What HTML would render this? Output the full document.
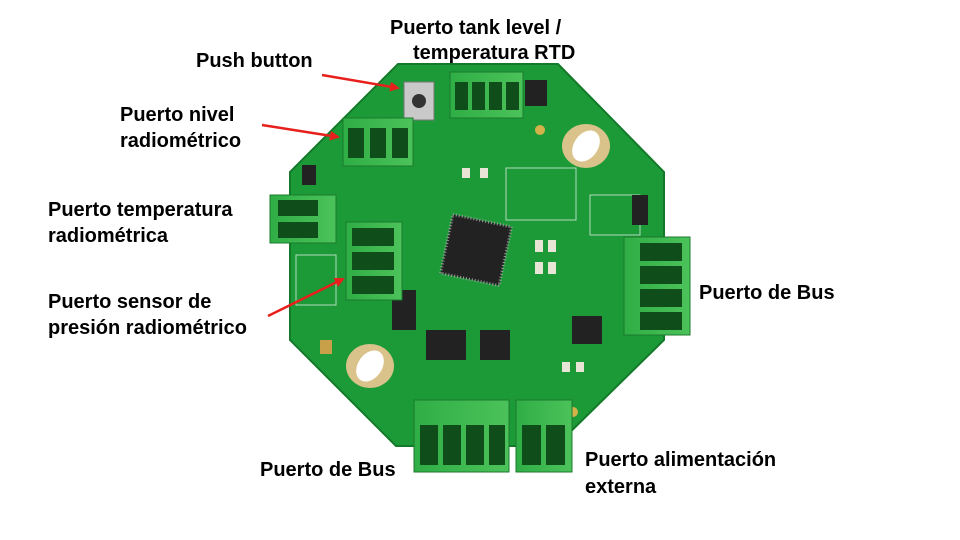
<!DOCTYPE html>
<html><head><meta charset="utf-8"><style>
html,body{margin:0;padding:0;background:#fff;width:960px;height:540px;overflow:hidden}
svg{display:block}
text.l{font-family:"Liberation Sans",sans-serif;font-weight:bold;font-size:20px;fill:#000}
</style></head><body>
<svg width="960" height="540" viewBox="0 0 960 540" xmlns="http://www.w3.org/2000/svg">
<defs>
<marker id="ah" markerWidth="10" markerHeight="10" refX="8" refY="5" orient="auto" markerUnits="userSpaceOnUse">
<path d="M0,0 L10,5 L0,10 z" fill="#e8201c"/></marker>
<linearGradient id="cg" x1="0" y1="0" x2="1" y2="0"><stop offset="0" stop-color="#2fae45"/><stop offset="1" stop-color="#4cc25a"/></linearGradient>
</defs>
<polygon points="398,64 558,64 664,172 664,340 556,446 396,446 290,340 290,172" fill="#1c9a38" stroke="#137a2a" stroke-width="2"/>
<g stroke="#d8eadb" stroke-width="1" fill="none" opacity="0.8">
<rect x="506" y="168" width="70" height="52"/><rect x="296" y="255" width="40" height="50"/>
<rect x="590" y="195" width="50" height="40"/>
</g>
<ellipse cx="586" cy="146" rx="24" ry="22" fill="#d9c38a"/><ellipse cx="586" cy="146" rx="12" ry="17" fill="#fff" transform="rotate(35 586 146)"/>
<ellipse cx="370" cy="366" rx="24" ry="22" fill="#d9c38a"/><ellipse cx="370" cy="366" rx="12" ry="17" fill="#fff" transform="rotate(35 370 366)"/>
<rect x="446" y="220" width="60" height="60" fill="#222" transform="rotate(12 476 250)" stroke="#999" stroke-width="3" stroke-dasharray="1 2"/>
<g fill="#222">
<rect x="426" y="330" width="40" height="30"/><rect x="480" y="330" width="30" height="30"/>
<rect x="392" y="290" width="24" height="40"/><rect x="572" y="316" width="30" height="28"/>
<rect x="525" y="80" width="22" height="26"/><rect x="302" y="165" width="14" height="20"/>
<rect x="632" y="195" width="16" height="30"/>
</g>
<g fill="#e9e5d6">
<rect x="462" y="168" width="8" height="10"/><rect x="480" y="168" width="8" height="10"/>
<rect x="535" y="240" width="8" height="12"/><rect x="548" y="240" width="8" height="12"/>
<rect x="535" y="262" width="8" height="12"/><rect x="548" y="262" width="8" height="12"/>
<rect x="562" y="362" width="8" height="10"/><rect x="576" y="362" width="8" height="10"/>
</g>
<circle cx="540" cy="130" r="5" fill="#d4b24a"/><circle cx="573" cy="412" r="5" fill="#d4b24a"/>
<rect x="320" y="340" width="12" height="14" fill="#c8a04a"/>
<rect x="404" y="82" width="30" height="38" fill="#c9c9c9" stroke="#777"/><circle cx="419" cy="101" r="7" fill="#333"/>
<g>
<rect x="450" y="72" width="73" height="46" fill="url(#cg)" stroke="#1b7a2c"/>
<rect x="455" y="82" width="13" height="28" fill="#0f4d1a"/><rect x="472" y="82" width="13" height="28" fill="#0f4d1a"/><rect x="489" y="82" width="13" height="28" fill="#0f4d1a"/><rect x="506" y="82" width="13" height="28" fill="#0f4d1a"/>
<rect x="343" y="118" width="70" height="48" fill="url(#cg)" stroke="#1b7a2c"/>
<rect x="348" y="128" width="16" height="30" fill="#0f4d1a"/><rect x="370" y="128" width="16" height="30" fill="#0f4d1a"/><rect x="392" y="128" width="16" height="30" fill="#0f4d1a"/>
<rect x="270" y="195" width="66" height="48" fill="url(#cg)" stroke="#1b7a2c"/>
<rect x="278" y="200" width="40" height="16" fill="#0f4d1a"/><rect x="278" y="222" width="40" height="16" fill="#0f4d1a"/>
<rect x="346" y="222" width="56" height="78" fill="url(#cg)" stroke="#1b7a2c"/>
<rect x="352" y="228" width="42" height="18" fill="#0f4d1a"/><rect x="352" y="252" width="42" height="18" fill="#0f4d1a"/><rect x="352" y="276" width="42" height="18" fill="#0f4d1a"/>
<rect x="624" y="237" width="66" height="98" fill="url(#cg)" stroke="#1b7a2c"/>
<rect x="640" y="243" width="42" height="18" fill="#0f4d1a"/><rect x="640" y="266" width="42" height="18" fill="#0f4d1a"/><rect x="640" y="289" width="42" height="18" fill="#0f4d1a"/><rect x="640" y="312" width="42" height="18" fill="#0f4d1a"/>
<rect x="414" y="400" width="95" height="72" fill="url(#cg)" stroke="#1b7a2c"/>
<rect x="420" y="425" width="18" height="40" fill="#0f4d1a"/><rect x="443" y="425" width="18" height="40" fill="#0f4d1a"/><rect x="466" y="425" width="18" height="40" fill="#0f4d1a"/><rect x="489" y="425" width="16" height="40" fill="#0f4d1a"/>
<rect x="516" y="400" width="56" height="72" fill="url(#cg)" stroke="#1b7a2c"/>
<rect x="522" y="425" width="19" height="40" fill="#0f4d1a"/><rect x="546" y="425" width="19" height="40" fill="#0f4d1a"/>
</g>
<text class="l" x="390" y="34">Puerto tank level /</text>
<text class="l" x="413" y="59">temperatura RTD</text>
<text class="l" x="196" y="67">Push button</text>
<text class="l" x="120" y="121">Puerto nivel</text>
<text class="l" x="120" y="147">radiométrico</text>
<text class="l" x="48" y="216">Puerto temperatura</text>
<text class="l" x="48" y="242">radiométrica</text>
<text class="l" x="48" y="308">Puerto sensor de</text>
<text class="l" x="48" y="334">presión radiométrico</text>
<text class="l" x="699" y="299">Puerto de Bus</text>
<text class="l" x="260" y="476">Puerto de Bus</text>
<text class="l" x="585" y="466">Puerto alimentación</text>
<text class="l" x="585" y="493">externa</text>
<g stroke="#e8201c" stroke-width="2.5" fill="none">
<line x1="322" y1="75" x2="398" y2="88" marker-end="url(#ah)"/>
<line x1="262" y1="125" x2="338" y2="137" marker-end="url(#ah)"/>
<line x1="268" y1="316" x2="343" y2="279" marker-end="url(#ah)"/>
</g>
</svg>
</body></html>
